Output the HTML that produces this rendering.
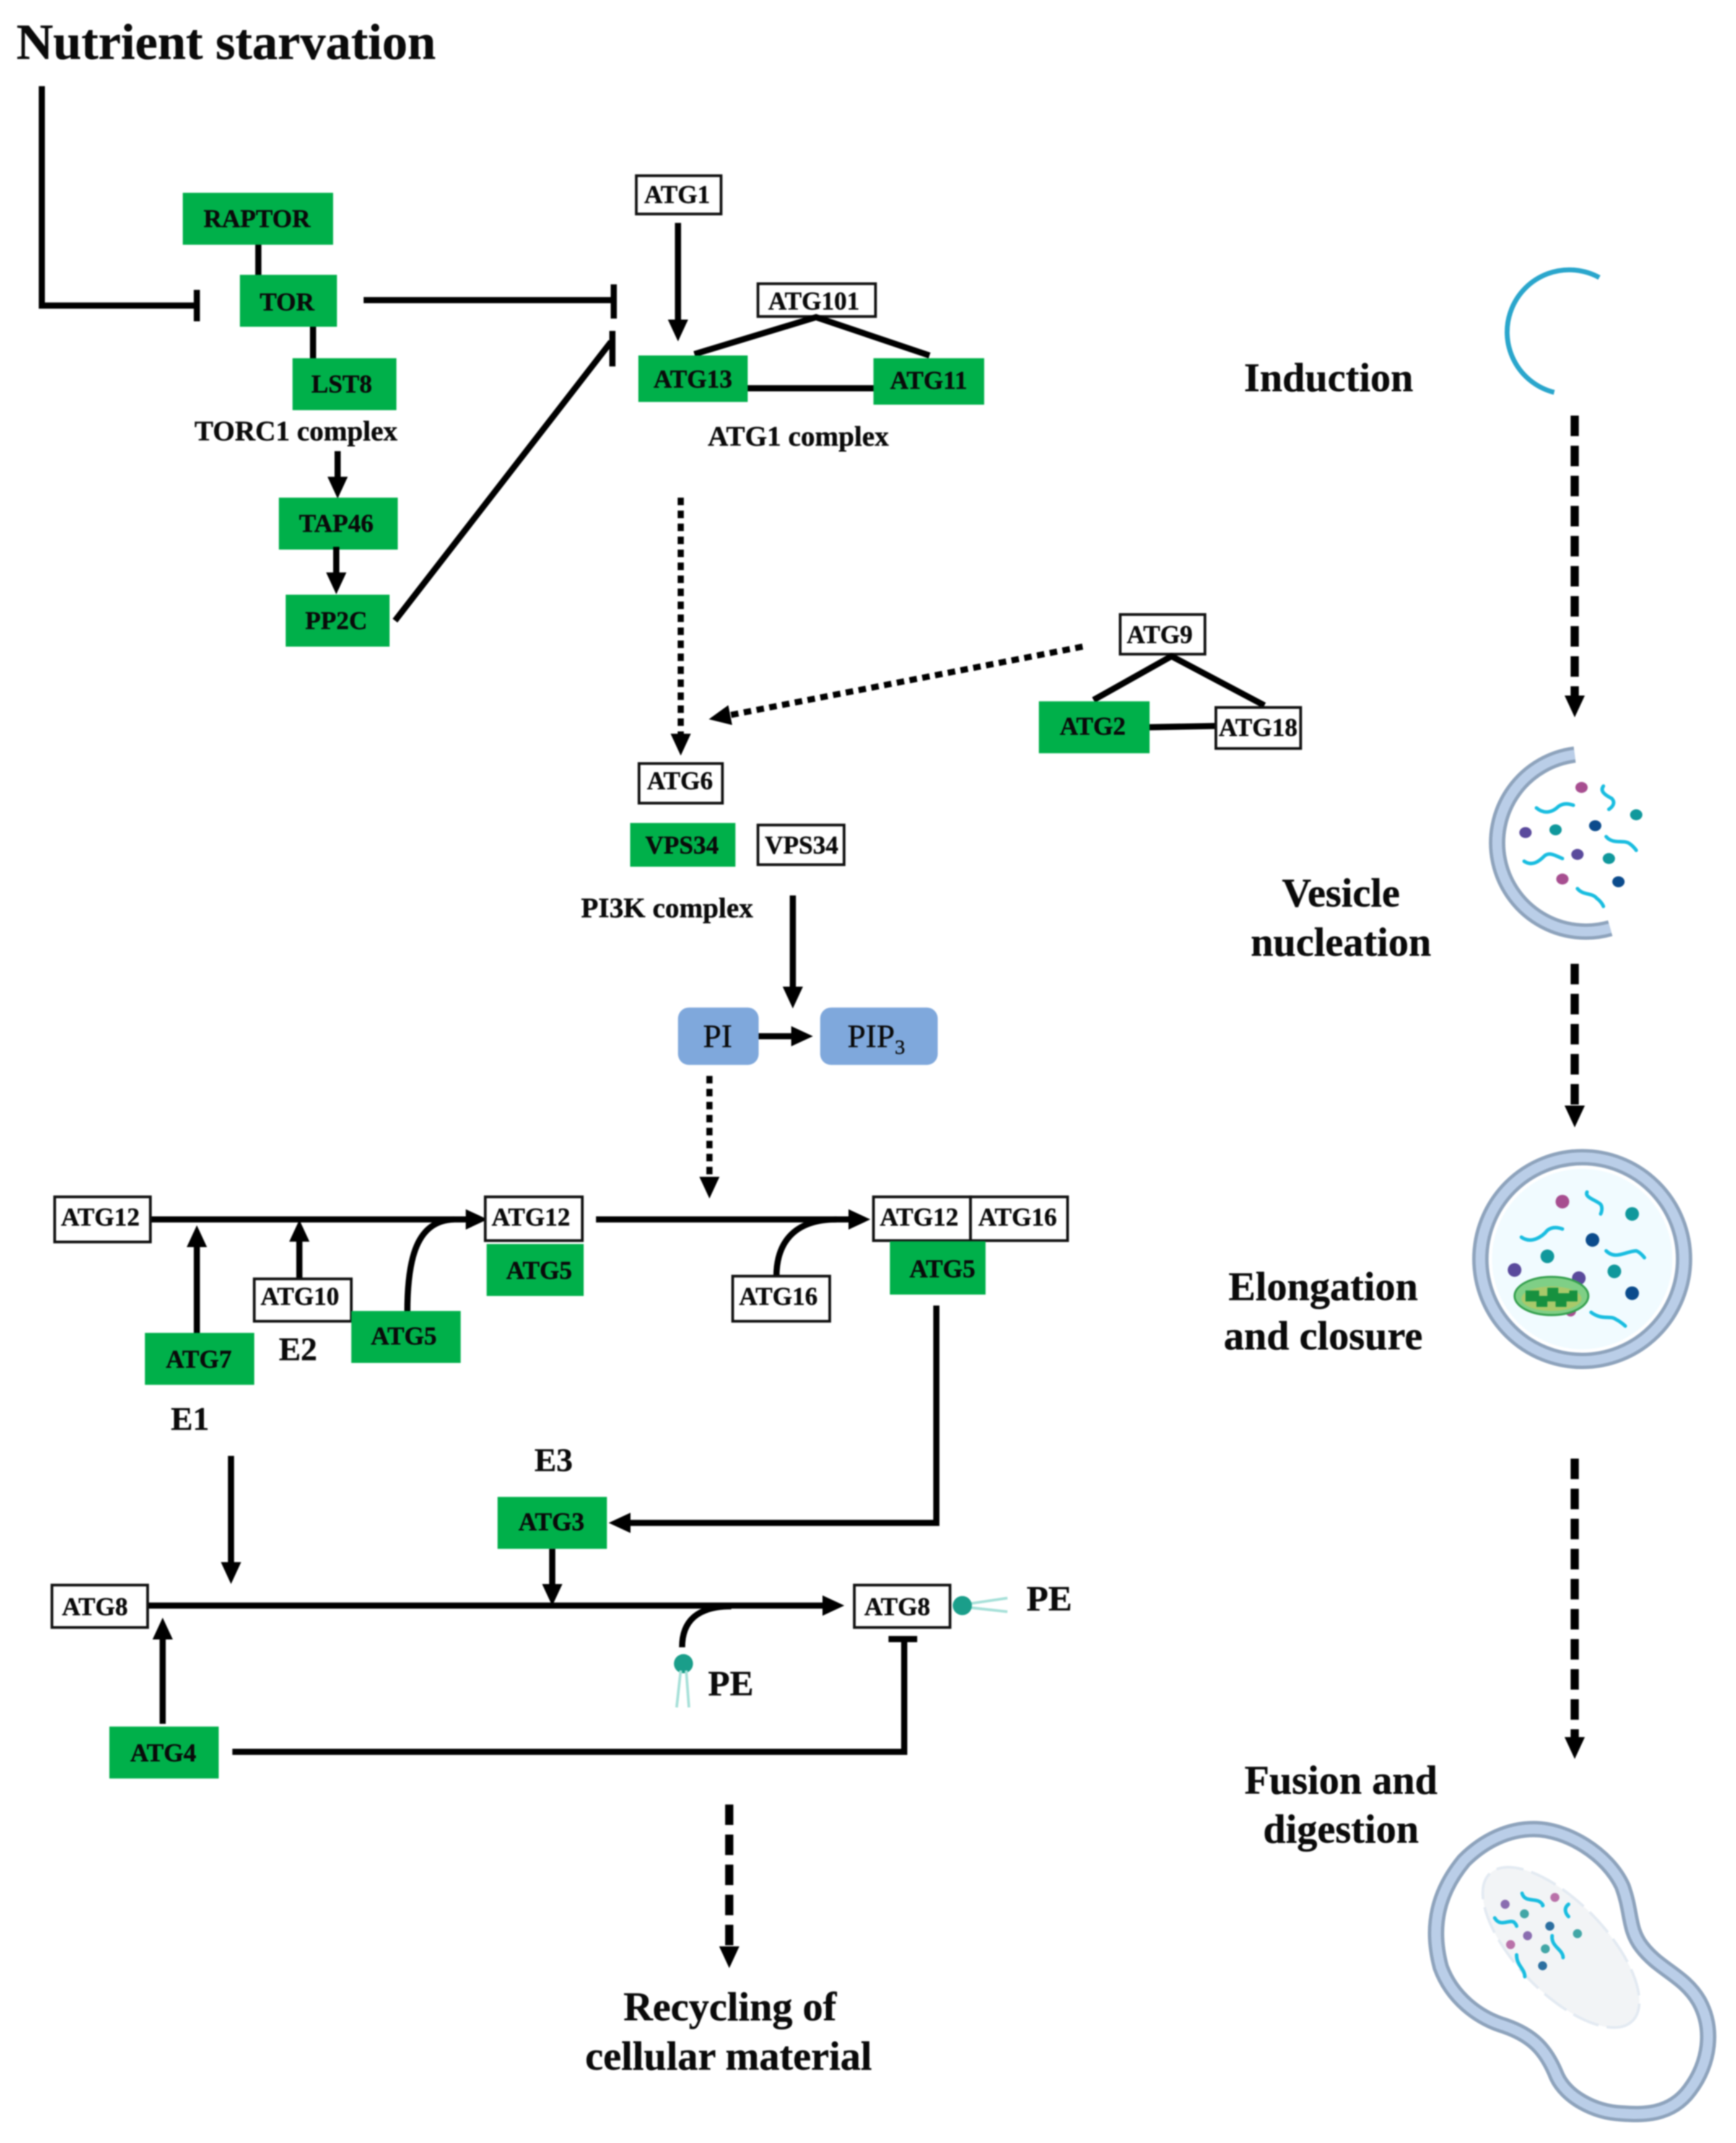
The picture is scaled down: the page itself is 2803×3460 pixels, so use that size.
<!DOCTYPE html>
<html><head><meta charset="utf-8"><style>
html,body{margin:0;padding:0;background:#fff}
svg{display:block;filter:blur(1.1px)}
text{font-family:"Liberation Serif",serif;font-weight:bold;fill:#0a0a0a;stroke:#0a0a0a;stroke-width:.22;text-anchor:middle}
.n{font-size:18.6px;transform:translate(-.6px,-.7px)}
.c text{transform:none}
.g{fill:#00b04a}
.w{fill:#fff;stroke:#111;stroke-width:2}
.l{fill:none;stroke:#000;stroke-width:4.5}
.t{font-size:20.7px}
.b{font-size:29.7px}
.q{fill:none;stroke:#19bde0;stroke-width:2.6;stroke-linecap:round}
.m1{fill:none;stroke:#8ea3bc;stroke-width:12}
.m2{fill:none;stroke:#bacee8;stroke-width:7}
</style></head><body>
<svg xmlns="http://www.w3.org/2000/svg" width="2803" height="3460" viewBox="0 0 1270 1567.6">
<defs>
<marker id="a" markerUnits="userSpaceOnUse" markerWidth="16" markerHeight="16" viewBox="0 0 14 14" refX="2" refY="7" orient="auto"><path d="M0,0.5L14,7L0,13.5Z"/></marker>
</defs>
<rect width="1270" height="1568" fill="#fff"/>

<text x="12" y="43" style="font-size:37.2px;text-anchor:start">Nutrient starvation</text>

<!-- TORC1 -->
<g class="c" transform="translate(-1 -1)">
<path class="l" d="M31.6,64V224.500H145"/>
<path class="l" d="M145,213V236" stroke-width="5"/>
<path class="l" d="M190,178V204M230,238V264"/>
<rect class="g" x="134.7" y="142" width="110" height="38"/><text class="n" x="189" y="167">RAPTOR</text>
<rect class="g" x="176.5" y="202" width="71" height="38"/><text class="n" x="211" y="228">TOR</text>
<rect class="g" x="215" y="263" width="76" height="38"/><text class="n" x="251" y="288">LST8</text>
<text class="t" x="217.5" y="323">TORC1 complex</text>
<path class="l" d="M248,331V352" marker-end="url(#a)"/>
<rect class="g" x="205" y="365" width="87" height="38"/><text class="n" x="247" y="390">TAP46</text>
<path class="l" d="M247,401V422" marker-end="url(#a)"/>
<rect class="g" x="210" y="436" width="76" height="38"/><text class="n" x="247" y="461">PP2C</text>
<path class="l" d="M267,220.500H448M450,209V234M449,243V269M290,455L448,251"/>
</g>

<!-- ATG1 complex -->
<rect class="w" x="465.5" y="128.500" width="62" height="28"/><text class="n" x="496" y="149">ATG1</text>
<path class="l" d="M496,163V236" marker-end="url(#a)"/>
<rect class="w" x="554.500" y="207.500" width="86" height="24"/><text class="n" x="596" y="227">ATG101</text>
<path class="l" d="M508,259L597,232L680,260M545,284H641"/>
<rect class="g" x="467" y="260" width="80" height="34"/><text class="n" x="507.500" y="284">ATG13</text>
<rect class="g" x="639" y="262" width="81" height="34"/><text class="n" x="680" y="285">ATG11</text>
<text class="t" x="584" y="326">ATG1 complex</text>

<!-- dotted -->
<path class="l" stroke-dasharray="5.500 4" d="M498,364V539" marker-end="url(#a)"/>
<path class="l" stroke-dasharray="5.500 4" d="M792,473L532,523.500" marker-end="url(#a)"/>
<path class="l" stroke-dasharray="5.500 4" d="M519,787V863" marker-end="url(#a)"/>

<!-- ATG9 -->
<rect class="w" x="819.500" y="449.500" width="62" height="29"/><text class="n" x="849" y="471">ATG9</text>
<path class="l" d="M800,512L857,480L925,516M840,532L890,531"/>
<rect class="g" x="760" y="513" width="81" height="38"/><text class="n" x="800" y="538">ATG2</text>
<rect class="w" x="889.500" y="517.500" width="62" height="30"/><text class="n" x="921" y="539">ATG18</text>

<!-- PI3K -->
<rect class="w" x="467.500" y="558.500" width="61" height="29"/><text class="n" x="498" y="578">ATG6</text>
<rect class="g" x="461" y="602" width="77" height="32"/><text class="n" x="499.500" y="625">VPS34</text>
<rect class="w" x="554.500" y="603.500" width="63" height="29"/><text class="n" x="587" y="625">VPS34</text>
<text class="t" x="488" y="671">PI3K complex</text>
<path class="l" d="M580,655V724" marker-end="url(#a)"/>
<rect x="496" y="737" width="59" height="42" rx="8" fill="#7fa8dc"/><text x="525" y="766" style="font-size:24px;font-weight:normal">PI</text>
<rect x="600" y="737" width="86" height="42" rx="8" fill="#7fa8dc"/><text x="641" y="766" style="font-size:24px;font-weight:normal">PIP<tspan dy="5" font-size="15">3</tspan></text>
<path class="l" d="M555,758H581" marker-end="url(#a)"/>

<!-- ATG12 conj -->
<path class="l" d="M110,892H343" marker-end="url(#a)"/>
<path class="l" d="M436,892H623" marker-end="url(#a)"/>
<path d="M144,975V910" class="l" stroke-width="3.600" marker-end="url(#a)"/>
<path d="M219,936V906" class="l" stroke-width="3.600" marker-end="url(#a)"/>
<path class="l" d="M298,960C298,920 305,893 332,892M568,934C568,910 580,892 612,892"/>
<rect class="w" x="40" y="875.500" width="70" height="33"/><text class="n" x="74" y="897">ATG12</text>
<rect class="w" x="355" y="875.500" width="71" height="32"/><text class="n" x="389" y="897">ATG12</text>
<rect class="g" x="356" y="910" width="71" height="38"/><text class="n" x="395" y="936">ATG5</text>
<rect class="w" x="639" y="875.500" width="71" height="32"/><text class="n" x="673" y="897">ATG12</text>
<rect class="w" x="710" y="875.500" width="71" height="32"/><text class="n" x="745" y="897">ATG16</text>
<rect class="g" x="651" y="908" width="70" height="39"/><text class="n" x="690" y="935">ATG5</text>
<rect class="w" x="536" y="933.500" width="71" height="33"/><text class="n" x="570" y="955">ATG16</text>
<rect class="w" x="186" y="935.500" width="71" height="31"/><text class="n" x="220" y="955">ATG10</text>
<rect class="g" x="106" y="975" width="80" height="38"/><text class="n" x="146" y="1001">ATG7</text>
<rect class="g" x="257" y="959" width="80" height="38"/><text class="n" x="296" y="984">ATG5</text>
<text x="218" y="995" style="font-size:24px">E2</text>
<text x="139" y="1046" style="font-size:24px">E1</text>
<text x="405" y="1076" style="font-size:24px">E3</text>

<!-- ATG3 / ATG8 -->
<path class="l" d="M685,955V1114H459" marker-end="url(#a)"/>
<rect class="g" x="364" y="1095" width="80" height="38"/><text class="n" x="404" y="1120">ATG3</text>
<path class="l" stroke-width="3.600" d="M169,1065V1145" marker-end="url(#a)"/>
<path class="l" stroke-width="3.600" d="M404,1133V1161" marker-end="url(#a)"/>
<path class="l" d="M108,1174.500H604" marker-end="url(#a)"/>
<path class="l" d="M499,1205C499,1186 510,1175 535,1175"/>
<rect class="w" x="38" y="1159.500" width="70" height="31"/><text class="n" x="70" y="1182">ATG8</text>
<rect class="w" x="625" y="1159.500" width="70" height="31"/><text class="n" x="657" y="1182">ATG8</text>
<circle cx="500" cy="1217" r="7" fill="#1a9e8a"/>
<path d="M498,1222L495,1249M502,1222L504,1249M710,1173L737,1169M710,1176L737,1179" stroke="#a6e0d8" stroke-width="2" fill="none"/>
<circle cx="704" cy="1174.500" r="7" fill="#1a9e8a"/>
<text x="751" y="1178" style="font-size:26px;text-anchor:start">PE</text>
<text x="518" y="1240" style="font-size:26px;text-anchor:start">PE</text>
<rect class="g" x="80" y="1263" width="80" height="38"/><text class="n" x="120" y="1289">ATG4</text>
<path class="l" stroke-width="3.600" d="M119,1261V1197" marker-end="url(#a)"/>
<path class="l" d="M170,1281.500H661.500V1199M650,1199H671"/>

<!-- dashed -->
<g stroke="#000" stroke-width="6" fill="none" stroke-dasharray="15 7">
<path d="M1152,304V511" marker-end="url(#a)"/>
<path d="M1152,705V811" marker-end="url(#a)"/>
<path d="M1152,1067V1273" marker-end="url(#a)"/>
<path d="M533.500,1320V1426" marker-end="url(#a)"/>
</g>

<text x="534" y="1478" class="b">Recycling of</text>
<text x="533" y="1514" class="b">cellular material</text>
<text x="972" y="286" class="b">Induction</text>
<text x="981" y="663" class="b">Vesicle</text>
<text x="981" y="699" class="b">nucleation</text>
<text x="968" y="951" class="b">Elongation</text>
<text x="968" y="987" class="b">and closure</text>
<text x="981" y="1312" class="b">Fusion and</text>
<text x="981" y="1348" class="b">digestion</text>

<!-- phagophore -->
<path d="M1170,203A45.500,45.500 0 1 0 1137,287" fill="none" stroke="#2aa6cc" stroke-width="3.600"/>

<!-- vesicle -->
<path class="m1" d="M1152,552A65,65 0 1 0 1178,679"/>
<path class="m2" d="M1152,552A65,65 0 1 0 1178,679"/>
<g class="q">
<path class="q" d="M1124,591C1130,596 1136,594 1140,590 1144,587 1148,588 1151,589"/>
<path class="q" d="M1173,575C1170,579 1175,582 1179,584 1182,587 1180,590 1177,592"/>
<path class="q" d="M1115,630C1121,634 1126,630 1130,626 1134,623 1138,626 1143,628"/>
<path class="q" d="M1175,612C1180,618 1188,614 1192,617 1195,619 1197,622 1197,622"/>
<path class="q" d="M1154,650C1158,655 1165,653 1168,657 1172,660 1173,663 1173,663"/>
</g>
<g>
<ellipse cx="1157" cy="576" rx="4.500" ry="4" fill="#a74e90"/><ellipse cx="1197" cy="596" rx="4.500" ry="4" fill="#10989c"/>
<ellipse cx="1116" cy="609" rx="4.500" ry="4" fill="#5a4a9c"/><ellipse cx="1138" cy="607" rx="4.500" ry="4" fill="#10989c"/>
<ellipse cx="1167" cy="604" rx="4.500" ry="4" fill="#0b4b8c"/><ellipse cx="1154" cy="625" rx="4.500" ry="4" fill="#5a4a9c"/>
<ellipse cx="1177" cy="628" rx="4.500" ry="4" fill="#10989c"/><ellipse cx="1143" cy="643" rx="4.500" ry="4" fill="#a74e90"/>
<ellipse cx="1184" cy="645" rx="4.500" ry="4" fill="#0b4b8c"/>
</g>

<!-- autophagosome -->
<circle cx="1157.500" cy="921" r="66" fill="#f1fbff"/>
<circle class="m1" cx="1157.500" cy="921" r="74.500" stroke-width="15"/>
<circle class="m2" cx="1157.500" cy="921" r="74.500" stroke-width="9"/>
<path class="q" d="M1113,905C1120,910 1128,905 1132,900 1136,897 1140,898 1143,899"/>
<path class="q" d="M1161,872C1159,876 1168,878 1171,881 1173,884 1171,888 1171,888"/>
<path class="q" d="M1175,915C1182,922 1190,915 1197,915 1200,916 1203,920 1203,920"/>
<path class="q" d="M1164,960C1172,966 1178,962 1182,965 1186,967 1189,970 1189,970"/>
<ellipse cx="1143" cy="879" rx="5" ry="5" fill="#a74e90"/><ellipse cx="1194" cy="888" rx="5" ry="5" fill="#10989c"/>
<ellipse cx="1165" cy="907" rx="5" ry="5" fill="#0b4b8c"/><ellipse cx="1132" cy="919" rx="5" ry="5" fill="#10989c"/>
<ellipse cx="1108" cy="929" rx="5" ry="5" fill="#5a4a9c"/><ellipse cx="1155" cy="935" rx="5" ry="5" fill="#5a4a9c"/>
<ellipse cx="1181" cy="930" rx="5" ry="5" fill="#10989c"/><ellipse cx="1194" cy="946" rx="5" ry="5" fill="#0b4b8c"/>
<ellipse cx="1149" cy="959" rx="4" ry="4" fill="#a74e90"/>
<ellipse cx="1135" cy="948" rx="27" ry="14" fill="#7fcf86" stroke="#35a04f" stroke-width="1.500"/>
<ellipse cx="1135" cy="950" rx="22" ry="9" fill="#a8c96a"/>
<path d="M1116,944h10v4h6v-6h8v4h8v-2h6v8h-8v4h-8v-4h-6v4h-8v-4h-8z" fill="#17913f"/>

<!-- fusion -->
<g transform="translate(-4 -1)">
<path class="m1" d="M1126,1339C1150,1339 1180,1357 1191,1381C1198,1400 1195,1412 1205,1425C1218,1442 1236,1446 1247,1465C1258,1485 1255,1510 1240,1530C1226,1549 1205,1548 1190,1547C1170,1546 1150,1535 1143,1520C1135,1500 1125,1490 1105,1483C1085,1477 1066,1462 1058,1440C1050,1410 1056,1385 1075,1362C1090,1347 1108,1339 1126,1339Z"/>
<path class="m2" d="M1126,1339C1150,1339 1180,1357 1191,1381C1198,1400 1195,1412 1205,1425C1218,1442 1236,1446 1247,1465C1258,1485 1255,1510 1240,1530C1226,1549 1205,1548 1190,1547C1170,1546 1150,1535 1143,1520C1135,1500 1125,1490 1105,1483C1085,1477 1066,1462 1058,1440C1050,1410 1056,1385 1075,1362C1090,1347 1108,1339 1126,1339Z"/>
</g>
<ellipse cx="1142" cy="1424.500" rx="75" ry="33" transform="rotate(46 1142 1424.500)" fill="#f2f4f6" stroke="#e3eaf2" stroke-width="2" stroke-dasharray="20 6"/>
<g transform="translate(-4.500 -6)">
<path class="q" stroke-width="2" d="M1118,1391C1120,1398 1128,1394 1132,1398 1134,1400 1133,1400 1133,1400"/>
<path class="q" stroke-width="2" d="M1098,1409C1102,1416 1108,1410 1112,1412 1114,1414 1114,1415 1114,1415"/>
<path class="q" stroke-width="1.500" d="M1152,1399C1148,1402 1150,1406 1152,1408"/>
<path class="q" stroke-width="2" d="M1140,1422C1139,1430 1148,1432 1148,1438"/>
<path class="q" stroke-width="1.500" d="M1114,1436C1114,1444 1120,1446 1120,1452"/>
<circle cx="1105.600" cy="1399" r="3.300" fill="#8a6db0"/><circle cx="1142" cy="1394" r="3.300" fill="#b971a9"/>
<circle cx="1119.700" cy="1406" r="3.300" fill="#42a6a6"/><circle cx="1138.300" cy="1415" r="3.300" fill="#2c6fa0"/>
<circle cx="1158.500" cy="1420.500" r="3.300" fill="#42a6a6"/><circle cx="1122" cy="1422" r="3.300" fill="#8a6db0"/>
<circle cx="1109.600" cy="1428.500" r="3.300" fill="#b971a9"/><circle cx="1135" cy="1431.600" r="3.300" fill="#42a6a6"/>
<circle cx="1133" cy="1444" r="3.300" fill="#2c6fa0"/>
</g>
</svg>
</body></html>
